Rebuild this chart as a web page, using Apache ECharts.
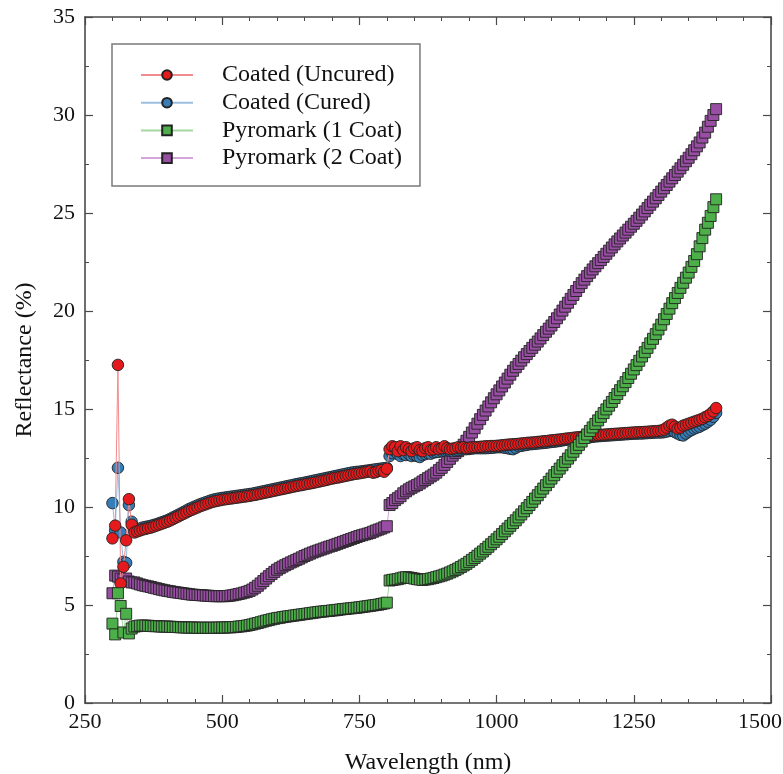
<!DOCTYPE html>
<html>
<head>
<meta charset="utf-8">
<script src="https://cdn.jsdelivr.net/npm/echarts@6/dist/echarts.min.js"></script>
<style>
  html, body { margin: 0; padding: 0; background: #fff; }
  #chart { width: 783px; height: 774px; }
</style>
</head>
<body>
<div id="chart"></div>
<script>
// Wavelength grid (nm): UV-Vis detector range, then NIR detector range (5 nm steps)
const wlVis = [
  300, 305, 310, 315, 320, 325, 330, 335, 340, 345,
  350, 355, 360, 365, 370, 375, 380, 385, 390, 395,
  400, 405, 410, 415, 420, 425, 430, 435, 440, 445,
  450, 455, 460, 465, 470, 475, 480, 485, 490, 495,
  500, 505, 510, 515, 520, 525, 530, 535, 540, 545,
  550, 555, 560, 565, 570, 575, 580, 585, 590, 595,
  600, 605, 610, 615, 620, 625, 630, 635, 640, 645,
  650, 655, 660, 665, 670, 675, 680, 685, 690, 695,
  700, 705, 710, 715, 720, 725, 730, 735, 740, 745,
  750, 755, 760, 765, 770, 775, 780, 785, 790, 795,
  800];
const wlNir = [
  805, 810, 815, 820, 825, 830, 835, 840, 845, 850,
  855, 860, 865, 870, 875, 880, 885, 890, 895, 900,
  905, 910, 915, 920, 925, 930, 935, 940, 945, 950,
  955, 960, 965, 970, 975, 980, 985, 990, 995, 1000,
  1005, 1010, 1015, 1020, 1025, 1030, 1035, 1040, 1045, 1050,
  1055, 1060, 1065, 1070, 1075, 1080, 1085, 1090, 1095, 1100,
  1105, 1110, 1115, 1120, 1125, 1130, 1135, 1140, 1145, 1150,
  1155, 1160, 1165, 1170, 1175, 1180, 1185, 1190, 1195, 1200,
  1205, 1210, 1215, 1220, 1225, 1230, 1235, 1240, 1245, 1250,
  1255, 1260, 1265, 1270, 1275, 1280, 1285, 1290, 1295, 1300,
  1305, 1310, 1315, 1320, 1325, 1330, 1335, 1340, 1345, 1350,
  1355, 1360, 1365, 1370, 1375, 1380, 1385, 1390, 1395, 1400];

// Reflectance (%) — Coated (Uncured)
const uncuredVis = [
  8.4, 9.05, 17.25, 6.1, 6.95, 8.3, 10.4, 9.1, 8.7, 8.75,
  8.8, 8.85, 8.88, 8.92, 8.95, 9.0, 9.05, 9.1, 9.15, 9.2,
  9.25, 9.31, 9.38, 9.45, 9.52, 9.59, 9.66, 9.73, 9.8, 9.86,
  9.92, 9.98, 10.04, 10.09, 10.14, 10.19, 10.24, 10.28, 10.31, 10.34,
  10.37, 10.39, 10.41, 10.43, 10.45, 10.47, 10.49, 10.51, 10.53, 10.55,
  10.57, 10.6, 10.62, 10.65, 10.68, 10.71, 10.74, 10.77, 10.8, 10.83,
  10.86, 10.89, 10.92, 10.95, 10.98, 11.01, 11.04, 11.07, 11.1, 11.12,
  11.15, 11.18, 11.2, 11.23, 11.26, 11.29, 11.32, 11.35, 11.38, 11.42,
  11.45, 11.48, 11.5, 11.53, 11.56, 11.59, 11.62, 11.65, 11.68, 11.7,
  11.72, 11.75, 11.77, 11.8, 11.82, 11.75, 11.78, 11.85, 11.88, 11.8,
  11.95];
const uncuredNir = [
  12.95, 13.1, 13.05, 12.85, 13.1, 12.9, 13.05, 12.95, 12.85, 13.0,
  13.05, 12.9, 12.85, 13.0, 13.05, 12.9, 12.95, 13.05, 12.95, 13.0,
  13.1, 13.0, 12.95, 12.98, 13.0, 13.05, 13.02, 13.05, 13.0, 13.02,
  13.05, 13.05, 13.06, 13.07, 13.08, 13.1, 13.1, 13.11, 13.11, 13.12,
  13.13, 13.15, 13.16, 13.18, 13.19, 13.2, 13.21, 13.22, 13.24, 13.25,
  13.27, 13.28, 13.29, 13.3, 13.32, 13.33, 13.35, 13.36, 13.38, 13.4,
  13.41, 13.43, 13.44, 13.46, 13.48, 13.5, 13.51, 13.53, 13.55, 13.56,
  13.58, 13.6, 13.61, 13.62, 13.64, 13.65, 13.67, 13.68, 13.69, 13.7,
  13.71, 13.72, 13.73, 13.74, 13.75, 13.76, 13.77, 13.78, 13.79, 13.8,
  13.81, 13.82, 13.82, 13.83, 13.84, 13.85, 13.86, 13.87, 13.88, 13.9,
  13.95, 14.05, 14.15, 14.2, 14.1, 14.0, 14.05, 14.15, 14.2, 14.25,
  14.3, 14.35, 14.4, 14.45, 14.5, 14.58, 14.65, 14.75, 14.88, 15.05];

// Reflectance (%) — Coated (Cured)
const curedVis = [
  10.2, 8.8, 12.0, 8.7, 7.2, 7.15, 10.1, 9.25, 8.8, 8.85,
  8.9, 8.95, 8.98, 9.01, 9.04, 9.08, 9.12, 9.17, 9.22, 9.27,
  9.32, 9.39, 9.46, 9.53, 9.6, 9.67, 9.75, 9.82, 9.9, 9.96,
  10.02, 10.08, 10.14, 10.19, 10.24, 10.29, 10.34, 10.38, 10.41, 10.44,
  10.46, 10.48, 10.5, 10.52, 10.54, 10.56, 10.58, 10.6, 10.62, 10.64,
  10.66, 10.68, 10.71, 10.74, 10.77, 10.8, 10.83, 10.86, 10.89, 10.92,
  10.95, 10.98, 11.01, 11.04, 11.07, 11.1, 11.13, 11.16, 11.19, 11.21,
  11.24, 11.27, 11.3, 11.33, 11.36, 11.39, 11.42, 11.45, 11.48, 11.51,
  11.54, 11.57, 11.6, 11.63, 11.66, 11.69, 11.72, 11.75, 11.77, 11.79,
  11.8, 11.82, 11.84, 11.86, 11.88, 11.9, 11.92, 11.94, 11.96, 11.98,
  12.0];
const curedNir = [
  12.6, 12.75, 12.85, 12.7, 12.6, 12.7, 12.65, 12.7, 12.6, 12.65,
  12.6, 12.55, 12.65, 12.7, 12.75, 12.72, 12.78, 12.8, 12.82, 12.85,
  12.88, 12.9, 12.87, 12.85, 12.88, 12.9, 12.93, 12.95, 12.95, 12.96,
  12.98, 13.0, 13.0, 13.0, 13.0, 13.0, 13.01, 13.02, 13.03, 13.05,
  13.05, 13.05, 13.02, 13.0, 12.97, 12.95, 13.02, 13.1, 13.12, 13.15,
  13.17, 13.2, 13.21, 13.22, 13.24, 13.25, 13.27, 13.28, 13.3, 13.32,
  13.33, 13.35, 13.37, 13.4, 13.42, 13.44, 13.45, 13.47, 13.48, 13.5,
  13.52, 13.54, 13.55, 13.56, 13.58, 13.6, 13.61, 13.62, 13.63, 13.64,
  13.65, 13.66, 13.67, 13.68, 13.69, 13.7, 13.71, 13.72, 13.73, 13.74,
  13.74, 13.75, 13.75, 13.76, 13.77, 13.78, 13.79, 13.8, 13.8, 13.8,
  13.82, 13.85, 13.88, 13.9, 13.82, 13.75, 13.68, 13.65, 13.75, 13.85,
  13.92, 14.0, 14.05, 14.1, 14.18, 14.25, 14.35, 14.45, 14.6, 14.8];

// Reflectance (%) — Pyromark (1 Coat)
const oneCoatVis = [
  4.05, 3.5, 5.6, 4.95, 3.6, 4.55, 3.55, 3.8, 3.9, 3.92,
  3.95, 3.95, 3.95, 3.94, 3.93, 3.92, 3.92, 3.91, 3.9, 3.9,
  3.9, 3.89, 3.88, 3.88, 3.87, 3.86, 3.86, 3.85, 3.85, 3.85,
  3.85, 3.84, 3.84, 3.84, 3.84, 3.84, 3.84, 3.84, 3.84, 3.85,
  3.85, 3.85, 3.86, 3.86, 3.87, 3.88, 3.9, 3.91, 3.93, 3.95,
  3.98, 4.01, 4.05, 4.08, 4.12, 4.16, 4.2, 4.23, 4.27, 4.3,
  4.33, 4.35, 4.38, 4.4, 4.42, 4.44, 4.46, 4.48, 4.5, 4.52,
  4.54, 4.56, 4.58, 4.6, 4.62, 4.64, 4.66, 4.67, 4.69, 4.7,
  4.72, 4.73, 4.75, 4.77, 4.79, 4.8, 4.82, 4.83, 4.85, 4.86,
  4.88, 4.9, 4.92, 4.94, 4.96, 4.98, 5.0, 5.02, 5.05, 5.08,
  5.12];
const oneCoatNir = [
  6.25, 6.28, 6.3, 6.32, 6.36, 6.4, 6.42, 6.4, 6.38, 6.35,
  6.32, 6.3, 6.28, 6.3, 6.32, 6.35, 6.38, 6.42, 6.46, 6.5,
  6.55, 6.6, 6.66, 6.72, 6.79, 6.86, 6.94, 7.02, 7.1, 7.2,
  7.3, 7.4, 7.51, 7.62, 7.73, 7.85, 7.97, 8.1, 8.22, 8.35,
  8.48, 8.62, 8.76, 8.9, 9.04, 9.18, 9.32, 9.47, 9.62, 9.78,
  9.94, 10.1, 10.26, 10.43, 10.6, 10.77, 10.94, 11.11, 11.28, 11.45,
  11.62, 11.79, 11.96, 12.13, 12.3, 12.47, 12.64, 12.82, 13.0, 13.17,
  13.34, 13.52, 13.7, 13.88, 14.06, 14.24, 14.42, 14.6, 14.79, 14.98,
  15.17, 15.36, 15.56, 15.76, 15.96, 16.16, 16.37, 16.58, 16.8, 17.02,
  17.24, 17.46, 17.68, 17.9, 18.12, 18.35, 18.58, 18.82, 19.06, 19.3,
  19.58, 19.85, 20.12, 20.4, 20.66, 20.92, 21.18, 21.44, 21.7, 21.96,
  22.25, 22.55, 22.9, 23.3, 23.72, 24.15, 24.5, 24.85, 25.3, 25.7];

// Reflectance (%) — Pyromark (2 Coat)
const twoCoatVis = [
  5.6, 6.5, 6.45, 6.35, 6.3, 6.35, 6.2, 6.15, 6.15, 6.1,
  6.05, 6.01, 5.98, 5.95, 5.92, 5.88, 5.85, 5.81, 5.78, 5.75,
  5.72, 5.7, 5.67, 5.65, 5.63, 5.61, 5.59, 5.57, 5.55, 5.53,
  5.52, 5.51, 5.5, 5.49, 5.48, 5.47, 5.46, 5.45, 5.45, 5.45,
  5.45, 5.45, 5.46, 5.48, 5.5, 5.53, 5.56, 5.59, 5.63, 5.67,
  5.72, 5.79, 5.88, 5.98, 6.1, 6.22, 6.35, 6.47, 6.58, 6.69,
  6.8, 6.88, 6.96, 7.03, 7.1, 7.17, 7.23, 7.3, 7.36, 7.43,
  7.5, 7.56, 7.62, 7.68, 7.73, 7.78, 7.83, 7.88, 7.93, 7.98,
  8.02, 8.07, 8.12, 8.17, 8.22, 8.27, 8.32, 8.37, 8.42, 8.47,
  8.52, 8.56, 8.6, 8.64, 8.68, 8.74, 8.8, 8.85, 8.9, 8.96,
  9.02];
const twoCoatNir = [
  10.1, 10.2, 10.35, 10.45, 10.55, 10.7, 10.8, 10.9, 10.98, 11.05,
  11.12, 11.2, 11.3, 11.38, 11.47, 11.56, 11.65, 11.75, 11.88, 12.0,
  12.15, 12.3, 12.46, 12.62, 12.75, 12.85, 13.0, 13.18, 13.38, 13.58,
  13.8, 14.02, 14.25, 14.48, 14.7, 14.92, 15.13, 15.34, 15.55, 15.75,
  15.95, 16.15, 16.35, 16.55, 16.75, 16.95, 17.13, 17.3, 17.47, 17.64,
  17.8, 17.96, 18.12, 18.28, 18.44, 18.6, 18.77, 18.94, 19.1, 19.26,
  19.44, 19.63, 19.82, 20.02, 20.22, 20.42, 20.62, 20.82, 21.02, 21.22,
  21.42, 21.6, 21.78, 21.95, 22.12, 22.28, 22.44, 22.6, 22.76, 22.92,
  23.08, 23.24, 23.4, 23.55, 23.7, 23.85, 24.0, 24.15, 24.3, 24.45,
  24.6, 24.76, 24.92, 25.08, 25.25, 25.42, 25.58, 25.75, 25.92, 26.09,
  26.26, 26.43, 26.6, 26.77, 26.94, 27.11, 27.28, 27.46, 27.64, 27.82,
  28.0, 28.2, 28.4, 28.6, 28.85, 29.1, 29.4, 29.7, 30.0, 30.3];

const xTicks = { min: 250, max: 1500, step: 250 };
const yTicks = { min: 0, max: 35, step: 5 };

const wavelengths = wlVis.concat(wlNir);
function pairs(vis, nir) {
  const vals = vis.concat(nir);
  return wavelengths.map((w, i) => [w, vals[i]]);
}

const FONT = 'Liberation Serif';
const AXIS_COLOR = '#4a4a4a';

function axisBase(t, minorSplit, showLabel, pos) {
  return {
    type: 'value',
    min: t.min, max: t.max, interval: t.step,
    position: pos,
    axisLine: { show: true, onZero: false, lineStyle: { color: AXIS_COLOR, width: 1.6 } },
    axisTick: { show: true, inside: true, length: 8, lineStyle: { color: AXIS_COLOR, width: 1.2 } },
    minorTick: { show: true, splitNumber: minorSplit, length: 4, lineStyle: { color: AXIS_COLOR, width: 1 } },
    splitLine: { show: false },
    minorSplitLine: { show: false },
    axisLabel: {
      show: showLabel, fontFamily: FONT, fontSize: 22, color: '#111',
      formatter: v => String(v)
    }
  };
}

const xBottom = axisBase(xTicks, 5, true, 'bottom');
xBottom.axisLabel.margin = 8;
// the last wavelength label sits inward so it stays inside the canvas
xBottom.axisLabel.formatter = v => (v === xTicks.max ? '{edge|' + v + '}' : String(v));
xBottom.axisLabel.rich = { edge: { fontFamily: FONT, fontSize: 22, color: '#111', padding: [0, 22, 0, 0] } };
xBottom.name = 'Wavelength (nm)';
xBottom.nameLocation = 'middle';
xBottom.nameGap = 48;
xBottom.nameTextStyle = { fontFamily: FONT, fontSize: 24, color: '#111' };
const xTop = axisBase(xTicks, 5, false, 'top');

const yLeft = axisBase(yTicks, 2, true, 'left');
yLeft.axisLabel.margin = 10;
yLeft.name = 'Reflectance (%)';
yLeft.nameLocation = 'middle';
yLeft.nameGap = 48;
yLeft.nameTextStyle = { fontFamily: FONT, fontSize: 24, color: '#111' };
const yRight = axisBase(yTicks, 2, false, 'right');

function makeSeries(name, data, symbol, size, fill, line, z) {
  return {
    name, type: 'line', data, z,
    xAxisIndex: 0, yAxisIndex: 0,
    symbol, symbolSize: size, showSymbol: true,
    lineStyle: { color: line, width: 1 },
    itemStyle: { color: fill, borderColor: '#222', borderWidth: 0.9 },
    emphasis: { disabled: true },
    animation: false
  };
}

const chart = echarts.init(document.getElementById('chart'), null, { renderer: 'canvas' });
chart.setOption({
  backgroundColor: '#ffffff',
  animation: false,
  grid: { left: 85, right: 12, top: 17, bottom: 71, containLabel: false, outerBoundsMode: 'none' },
  xAxis: [xBottom, xTop],
  yAxis: [yLeft, yRight],
  legend: {
    data: ['Coated (Uncured)', 'Coated (Cured)', 'Pyromark (1 Coat)', 'Pyromark (2 Coat)'],
    orient: 'vertical',
    left: 112, top: 44,
    padding: [19, 18, 16, 28],
    itemWidth: 52, itemHeight: 12, itemGap: 3.7,
    backgroundColor: '#ffffff',
    borderColor: '#7a7a7a', borderWidth: 1.5, borderRadius: 0,
    textStyle: { fontFamily: FONT, fontSize: 24, color: '#111', lineHeight: 22, padding: [0, 0, 0, 24] }
  },
  series: [
    makeSeries('Pyromark (2 Coat)', pairs(twoCoatVis, twoCoatNir), 'rect', 11, '#984ea3', '#d3a6da', 2),
    makeSeries('Coated (Cured)', pairs(curedVis, curedNir), 'circle', 11.5, '#377eb8', '#9bbfe0', 3),
    makeSeries('Coated (Uncured)', pairs(uncuredVis, uncuredNir), 'circle', 11.5, '#e41a1c', '#f28b8d', 4),
    makeSeries('Pyromark (1 Coat)', pairs(oneCoatVis, oneCoatNir), 'rect', 11, '#4daf4a', '#a3d8a1', 5)
  ]
});
</script>
</body>
</html>
